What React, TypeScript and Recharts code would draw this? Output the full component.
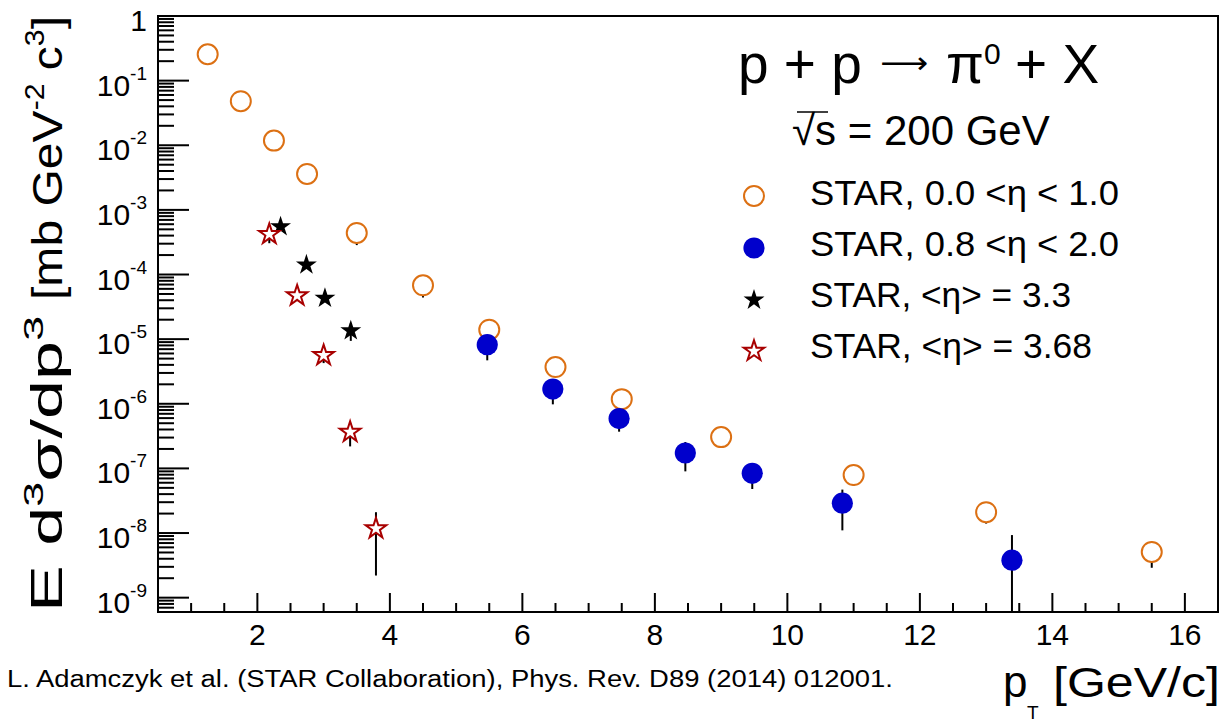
import React from 'react';
import { ScatterChart, Scatter, XAxis, YAxis, ErrorBar, ReferenceArea } from 'recharts';

// ---- data: STAR, 0.0 < eta < 1.0 (open orange circles)
const midPt = [1.25, 1.75, 2.25, 2.75, 3.5, 4.5, 5.5, 6.5, 7.5, 9.0, 11.0, 13.0, 15.5];
const midVal = [0.256, 0.048, 0.0118, 3.6e-3, 4.4e-4, 6.8e-5, 1.4e-5, 3.7e-6, 1.18e-6, 3.05e-7, 7.9e-8, 2.1e-8, 5.1e-9];
const midLo = [0.256, 0.048, 0.0118, 3.6e-3, 2.85e-4, 4.4e-5, 1.2e-5, 3.2e-6, 1.0e-6, 2.6e-7, 5.4e-8, 1.4e-8, 2.9e-9];
const midHi = [0.256, 0.048, 0.0118, 3.6e-3, 5.9e-4, 9.2e-5, 1.6e-5, 4.2e-6, 1.36e-6, 3.5e-7, 1.04e-7, 2.8e-8, 7.3e-9];

// ---- STAR, 0.8 < eta < 2.0 (filled blue circles)
const fwdPt = [5.47, 6.46, 7.46, 8.46, 9.47, 10.83, 13.39];
const fwdVal = [8.2e-6, 1.69e-6, 5.9e-7, 1.73e-7, 8.4e-8, 2.9e-8, 3.8e-9];
const fwdLo = [4.7e-6, 9.8e-7, 3.7e-7, 9.0e-8, 4.8e-8, 1.1e-8, 6e-10];
const fwdHi = [1.17e-5, 2.4e-6, 8.1e-7, 2.56e-7, 1.2e-7, 4.7e-8, 9.3e-9];

// ---- STAR, <eta> = 3.3 (filled black stars)
const fms33Pt = [2.35, 2.74, 3.02, 3.41];
const fms33Val = [5.5e-4, 1.41e-4, 4.3e-5, 1.35e-5];
const fms33Lo = [5.5e-4, 1.41e-4, 4.3e-5, 9.4e-6];
const fms33Hi = [5.5e-4, 1.41e-4, 4.3e-5, 1.76e-5];

// ---- STAR, <eta> = 3.68 (open red stars)
const fms368Pt = [2.18, 2.6, 3.0, 3.4, 3.79];
const fms368Val = [4.2e-4, 4.7e-5, 5.6e-6, 3.65e-7, 1.17e-8];
const fms368Lo = [3.05e-4, 4.7e-5, 4.26e-6, 2.19e-7, 2.2e-9];
const fms368Hi = [5.35e-4, 4.7e-5, 6.9e-6, 5.1e-7, 2.1e-8];

// ---- axes
const xMajor = [2, 4, 6, 8, 10, 12, 14, 16];
const xDomain = [0.5, 16.5];
const yDomain = [6e-10, 1];
const yMajorExp = [0, -1, -2, -3, -4, -5, -6, -7, -8, -9];

const legendLabels = ['STAR, 0.0 <\u03b7 < 1.0', 'STAR, 0.8 <\u03b7 < 2.0', 'STAR, <\u03b7> = 3.3', 'STAR, <\u03b7> = 3.68'];
const legendWidths = [309, 309, 261, 282];

const ORANGE = '#dc7013';
const BLUE = '#0000cc';
const RED = '#a80000';
const FONT = '"Liberation Sans", Arial, Helvetica, sans-serif';

const xTicks: number[] = [];
for (let v = xDomain[0]; v <= xDomain[1] + 1e-9; v += 0.5) xTicks.push(v);
const yTicks: number[] = [];
for (let k = -10; k <= 0; k++) {
  for (let m = 1; m <= 9; m++) {
    const v = m * Math.pow(10, k);
    if (v >= yDomain[0] * 0.9999 && v <= yDomain[1] * 1.0001) yTicks.push(v);
  }
}

const rows = (xs: number[], ys: number[], lo: number[], hi: number[]) =>
  xs.map((x, i) => ({ x, y: ys[i], err: [ys[i] - lo[i], hi[i] - ys[i]] }));

const midData = rows(midPt, midVal, midLo, midHi);
const fwdData = rows(fwdPt, fwdVal, fwdLo, fwdHi);
const f33Data = rows(fms33Pt, fms33Val, fms33Lo, fms33Hi);
const f368Data = rows(fms368Pt, fms368Val, fms368Lo, fms368Hi);

const starPath = (cx: number, cy: number, R: number) => {
  const r = R * 0.382;
  let d = '';
  for (let i = 0; i < 10; i++) {
    const rad = i % 2 === 0 ? R : r;
    const a = -Math.PI / 2 + (i * Math.PI) / 5;
    d += (i ? 'L' : 'M') + (cx + rad * Math.cos(a)).toFixed(2) + ',' + (cy + rad * Math.sin(a)).toFixed(2);
  }
  return d + 'Z';
};

const OpenCircle = (p: any) => <circle cx={p.cx} cy={p.cy} r={10} fill="#fff" stroke={ORANGE} strokeWidth={2} />;
const FullCircle = (p: any) => <circle cx={p.cx} cy={p.cy} r={10.6} fill={BLUE} stroke="none" />;
const FullStar = (p: any) => <path d={starPath(p.cx, p.cy, 11)} fill="#000" stroke="none" />;
const OpenStar = (p: any) => <path d={starPath(p.cx, p.cy, 10.8)} fill="#fff" stroke={RED} strokeWidth={2} />;

const XTick = (props: any) => {
  const { x, y, payload } = props;
  const v = payload.value;
  const major = xMajor.indexOf(v) >= 0;
  return (
    <g>
      <line x1={x} x2={x} y1={y} y2={y - (major ? 19 : 9)} stroke="#000" strokeWidth={2} />
      {major && (
        <text x={x} y={y + 33} textAnchor="middle" fontSize={30} fontFamily={FONT} fill="#000">
          {v}
        </text>
      )}
    </g>
  );
};

const YTick = (props: any) => {
  const { x, y, payload } = props;
  const v = payload.value;
  const e = Math.log10(v);
  const ei = Math.round(e);
  const major = Math.abs(e - ei) < 1e-6 && yMajorExp.indexOf(ei) >= 0;
  const ax = x + 11;
  return (
    <g>
      <line x1={ax} x2={ax + (major ? 31 : 16)} y1={y} y2={y} stroke="#000" strokeWidth={2} />
      {major && (
        <text x={x} y={y + 15} textAnchor="end" fontSize={30} fontFamily={FONT} fill="#000">
          {ei === 0 ? (
            '1'
          ) : (
            <>
              <tspan>10</tspan>
              <tspan dy={-16} fontSize={19}>{String(ei)}</tspan>
            </>
          )}
        </text>
      )}
    </g>
  );
};

const legendY = [205, 256, 307, 358];

export default function App() {
  return (
    <div style={{ position: 'absolute', left: 0, top: 0, width: 1223, height: 722, background: '#fff' }}>
      <ScatterChart width={1223} height={722} margin={{ top: 16, right: 5, bottom: 50, left: 58 }}>
        <XAxis
          type="number"
          dataKey="x"
          domain={xDomain}
          ticks={xTicks}
          interval={0}
          tick={XTick}
          tickLine={false}
          tickSize={0}
          tickMargin={0}
          height={60}
          allowDataOverflow
          axisLine={{ stroke: '#000', strokeWidth: 2 }}
        />
        <YAxis
          type="number"
          dataKey="y"
          scale="log"
          domain={yDomain}
          ticks={yTicks}
          interval={0}
          tick={YTick}
          tickLine={false}
          tickSize={0}
          tickMargin={11}
          width={100}
          allowDataOverflow
          axisLine={{ stroke: '#000', strokeWidth: 2 }}
        />
        <ReferenceArea x1={xDomain[0]} x2={xDomain[1]} y1={yDomain[0]} y2={yDomain[1]} fill="none" stroke="#000" strokeWidth={2} ifOverflow="visible" />
        <Scatter data={midData} shape={OpenCircle} isAnimationActive={false}>
          <ErrorBar dataKey="err" direction="y" width={0} stroke="#000" strokeWidth={2} isAnimationActive={false} />
        </Scatter>
        <Scatter data={fwdData} shape={FullCircle} isAnimationActive={false}>
          <ErrorBar dataKey="err" direction="y" width={0} stroke="#000" strokeWidth={2} isAnimationActive={false} />
        </Scatter>
        <Scatter data={f33Data} shape={FullStar} isAnimationActive={false}>
          <ErrorBar dataKey="err" direction="y" width={0} stroke="#000" strokeWidth={2} isAnimationActive={false} />
        </Scatter>
        <Scatter data={f368Data} shape={OpenStar} isAnimationActive={false}>
          <ErrorBar dataKey="err" direction="y" width={0} stroke="#000" strokeWidth={2} isAnimationActive={false} />
        </Scatter>
      </ScatterChart>
      <svg width={1223} height={722} style={{ position: 'absolute', left: 0, top: 0, pointerEvents: 'none' }} fontFamily={FONT}>
        {/* title */}
        <text y={83} fontSize={55} fill="#000">
          <tspan x={738}>p + p</tspan>
          <tspan x={946}>{'\u03c0'}</tspan>
        </text>
        <text x={984} y={64} fontSize={30} fill="#000">0</text>
        <text x={1015} y={83} fontSize={55} fill="#000">+ X</text>
        <text x={880} y={73} fontSize={30} fontFamily='"DejaVu Sans", sans-serif' textLength={48} lengthAdjust="spacingAndGlyphs" fill="#000">
          {'\u27f6'}
        </text>
        <text x={792} y={145} fontSize={42} fill="#000">{'\u221as = 200 GeV'}</text>
        <line x1={797} x2={828} y1={112} y2={112} stroke="#000" strokeWidth={1.5} />
        {/* legend */}
        {legendLabels.map((t, i) => (
          <text key={t} x={810} y={legendY[i]} fontSize={35} fill="#000" textLength={legendWidths[i]} lengthAdjust="spacingAndGlyphs">{t}</text>
        ))}
        <OpenCircle cx={754} cy={legendY[0] - 9} />
        <FullCircle cx={754} cy={legendY[1] - 8} />
        <FullStar cx={754} cy={legendY[2] - 7} />
        <OpenStar cx={754} cy={legendY[3] - 7} />
        {/* y-axis title */}
        <text transform="translate(61.7,612) rotate(-90)" x={0} y={0} fontSize={44} fill="#000" textLength={296} lengthAdjust="spacingAndGlyphs">
          <tspan>E d</tspan>
          <tspan dy={-19} fontSize={28}>3</tspan>
          <tspan dy={19}>{'\u03c3/dp'}</tspan>
          <tspan dy={-19} fontSize={28}>3</tspan>
        </text>
        <text transform="translate(61.7,16) rotate(-90)" x={0} y={0} textAnchor="end" fontSize={43} fill="#000" textLength={284} lengthAdjust="spacingAndGlyphs">
          <tspan>[mb GeV</tspan>
          <tspan dy={-18} fontSize={27}>-2</tspan>
          <tspan dy={18}> c</tspan>
          <tspan dy={-18} fontSize={27}>3</tspan>
          <tspan dy={18}>]</tspan>
        </text>
        {/* x-axis title */}
        <text x={1003} y={697} fontSize={44} fill="#000">p</text>
        <text x={1027} y={719} fontSize={19} fill="#000">T</text>
        <text x={1053} y={697} fontSize={42} fill="#000" textLength={167} lengthAdjust="spacingAndGlyphs">[GeV/c]</text>
        {/* citation */}
        <text x={7} y={687} fontSize={23} fill="#000" textLength={886} lengthAdjust="spacingAndGlyphs">
          L. Adamczyk et al. (STAR Collaboration), Phys. Rev. D89 (2014) 012001.
        </text>
      </svg>
    </div>
  );
}
